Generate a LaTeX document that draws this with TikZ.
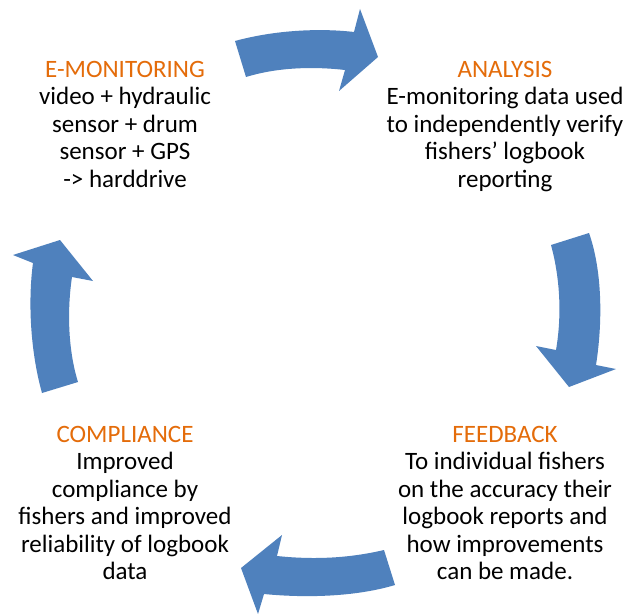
\documentclass[tikz,border=0pt]{standalone}
\usepackage{fontspec}
\setmainfont{Carlito}
\definecolor{arrowblue}{HTML}{4F81BD}
\definecolor{titleorange}{HTML}{E46C0A}
\tikzset{
  blockarrow/.style={fill=arrowblue, draw=none},
  textblock/.style={align=center, inner sep=0pt, anchor=north,
    font=\fontsize{25}{27.5}\selectfont, text=black},
}
\newcommand{\ttl}[1]{\textcolor{titleorange}{#1}}
\begin{document}
\begin{tikzpicture}[x=1pt,y=-1pt]
\useasboundingbox (0,0) rectangle (628,615);
\fill[white] (0,0) rectangle (628,615);

% top arrow (E-MONITORING -> ANALYSIS)
\fill[blockarrow] (235,41) .. controls (275,30) and (320,28) .. (354,32)
  -- (360,9) -- (378,57) -- (339,91) -- (345,70)
  .. controls (310,66) and (275,68) .. (246,77) -- cycle;
% right arrow (ANALYSIS -> FEEDBACK)
\fill[blockarrow] (551,245) -- (589,233)
  .. controls (602,270) and (603,320) .. (596,365)
  -- (616,369) -- (569,387) -- (536,346) -- (556,350)
  .. controls (562,315) and (560,278) .. (551,245) -- cycle;
% bottom arrow (FEEDBACK -> COMPLIANCE)
\fill[blockarrow] (384,550) -- (395,585)
  .. controls (355,597) and (305,598) .. (264,594)
  -- (258,614) -- (241,568) -- (282,535) -- (277,556)
  .. controls (315,560) and (350,558) .. (384,550) -- cycle;
% left arrow (COMPLIANCE -> E-MONITORING)
\fill[blockarrow] (42,393) .. controls (30,350) and (28,300) .. (33,263)
  -- (13,255) -- (60,240) -- (93,281) -- (72,277)
  .. controls (67,310) and (68,350) .. (78,382) -- cycle;

\node[textblock] (emon) at (125,61) {\ttl{E-MONITORING}\\video + hydraulic\\sensor + drum\\sensor + GPS\\-> harddrive};
\node[textblock] (anal) at (505,61) {\ttl{ANALYSIS}\\E-monitoring data used\\to independently verify\\fishers’ logbook\\reporting};
\node[textblock] (feed) at (505,426) {\ttl{FEEDBACK}\\To individual fishers\\on the accuracy their\\logbook reports and\\how improvements\\can be made.};
\node[textblock] (comp) at (125,426) {\ttl{COMPLIANCE}\\Improved\\compliance by\\fishers and improved\\reliability of logbook\\data};
\end{tikzpicture}
\end{document}
